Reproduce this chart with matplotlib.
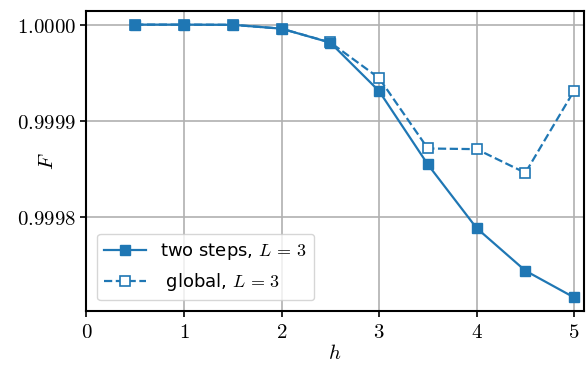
import matplotlib
matplotlib.use("Agg")
import matplotlib.pyplot as plt
from matplotlib.ticker import FixedLocator, FuncFormatter

plt.rcParams["mathtext.fontset"] = "cm"
plt.rcParams["font.family"] = ["DejaVu Sans"]

h = [0.5, 1.0, 1.5, 2.0, 2.5, 3.0, 3.5, 4.0, 4.5, 5.0]
F_two_steps = [1.0000000, 1.0000000, 0.9999998, 0.9999958, 0.9999813,
               0.9999310, 0.9998547, 0.9997886, 0.9997443, 0.9997165]
F_global = [1.0000000, 1.0000000, 0.9999998, 0.9999958, 0.9999815,
            0.9999445, 0.9998713, 0.9998706, 0.9998460, 0.9999314]
x_ticks = [0, 1, 2, 3, 4, 5]
y_ticks = [0.9998, 0.9999, 1.0000]

color = "#1f77b4"
fig, ax = plt.subplots(figsize=(5.88, 3.66), dpi=100)
ax.plot(h, F_two_steps, "-s", color=color, lw=1.6, ms=6.5, zorder=4,
        label=r"two steps, $L\,=\,3$")
ax.plot(h, F_global, "--s", color=color, lw=1.6, ms=6.5, zorder=3,
        markerfacecolor="white", markeredgewidth=1.2,
        label=r" global, $L\,=\,3$")

ax.set_xlim(0, 5.1)
ax.margins(y=0.05)
ax.xaxis.set_major_locator(FixedLocator(x_ticks))
ax.yaxis.set_major_locator(FixedLocator(y_ticks))
ax.xaxis.set_major_formatter(FuncFormatter(lambda v, p: rf"${v:.0f}$"))
ax.yaxis.set_major_formatter(FuncFormatter(lambda v, p: rf"${v:.4f}$"))
ax.tick_params(labelsize=15, width=1.2, length=4)
ax.grid(True, color="#b0b0b0", lw=1.2)
for s in ax.spines.values():
    s.set_linewidth(1.5)

ax.set_xlabel(r"$h$", fontsize=15, labelpad=1)
ax.set_ylabel(r"$F$", fontsize=15)
ax.yaxis.set_label_coords(-0.060, 0.5)
ax.legend(loc="lower left", fontsize=13, handlelength=2.3,
          borderaxespad=0.6)

fig.subplots_adjust(left=0.147, right=0.993, top=0.97, bottom=0.15)
fig.savefig("out.png", dpi=100)
